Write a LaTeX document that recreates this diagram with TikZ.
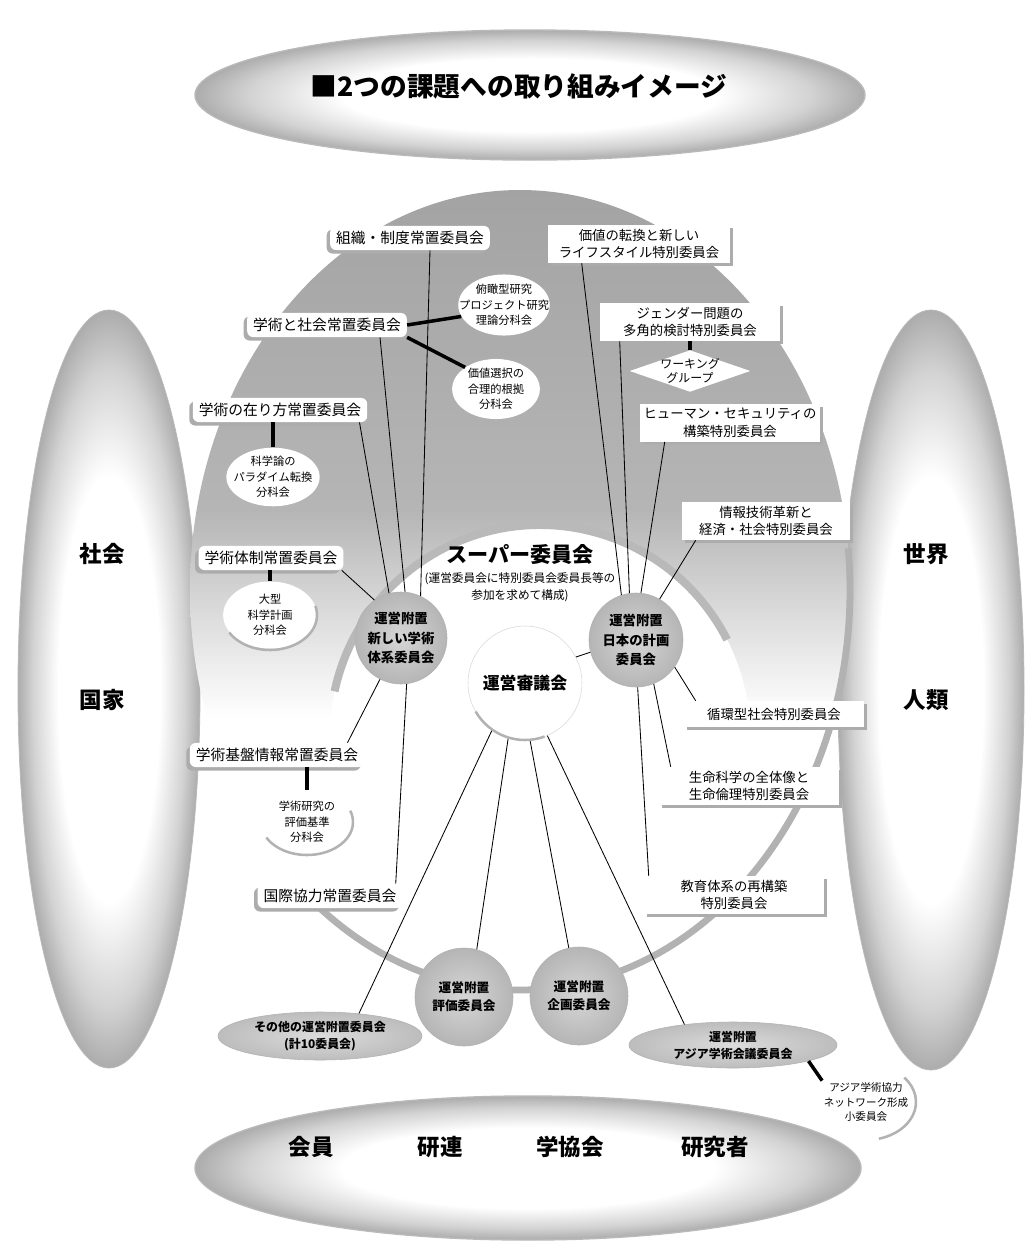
\documentclass[tikz,border=0pt]{standalone}
\usepackage{fontspec}
\setmainfont{Noto Sans CJK JP}
\usetikzlibrary{calc}
\usetikzlibrary{shapes.geometric}
\usetikzlibrary{shadows}

\pgfdeclareradialshading{sideshade}{\pgfpoint{0bp}{0bp}}{color(0bp)=(white); color(14bp)=(white); color(21bp)=(gray!35); color(25bp)=(gray!65); color(50bp)=(gray!65)}
\pgfdeclareverticalshading{mainshade}{100bp}{color(0bp)=(white); color(42bp)=(white); color(49bp)=(gray!30); color(55bp)=(gray!58); color(75bp)=(gray!72); color(100bp)=(gray!72)}

\tikzset{
  jouchi/.style={fill=white, rounded corners=0.15cm, inner xsep=0.15cm, inner ysep=0.13cm,
    font=\fontsize{10.5}{13}\selectfont,
    drop shadow={shadow xshift=-2.5pt, shadow yshift=-2.5pt, fill=gray!65, opacity=1}},
  tokubetsu/.style={fill=white, align=center, minimum width=4.5cm, inner xsep=0.05cm, inner ysep=0.1cm,
    font=\fontsize{9.5}{12.5}\selectfont,
    drop shadow={shadow xshift=2pt, shadow yshift=-2pt, fill=gray!65, opacity=1}},
  bunka/.style 2 args={ellipse, fill=white, align=center, inner xsep=#1, inner ysep=#2,
    font=\fontsize{8}{11}\selectfont},
  fuchi/.style={circle, inner color=gray!32, outer color=gray!58, draw=gray!60, align=center,
    inner sep=0pt, font=\bfseries\fontsize{9.5}{14}\selectfont},
  fuchiell/.style={ellipse, inner color=gray!28, outer color=gray!52, draw=gray!60, align=center,
    inner sep=0pt, font=\bfseries\fontsize{8.5}{12}\selectfont},
  bigword/.style={font=\bfseries\fontsize{16}{18}\selectfont},
  link/.style={line width=0.6pt},
  stub/.style={line width=2.5pt},
  halfarc/.style={gray!60, line width=1.8pt},
  outline/.style={gray!60, line width=0.17cm},
  ring/.style={gray!55, line width=0.2cm},
}

\begin{document}
\begin{tikzpicture}[x=0.025cm, y=-0.025cm]
\useasboundingbox (0,0) rectangle (1029,1245);
\fill[white] (0,0) rectangle (1029,1245);

% outer ellipses
\shade[shading=sideshade, draw=gray!55, line width=1pt] (530,95) ellipse[x radius=335, y radius=65];
\shade[shading=sideshade, draw=gray!55, line width=1pt] (528,1168) ellipse[x radius=333, y radius=72];
\shade[shading=sideshade, draw=gray!55, line width=0.6pt] (109,689) ellipse[x radius=91, y radius=379];
\shade[shading=sideshade, draw=gray!55, line width=0.6pt] (931,690) ellipse[x radius=93, y radius=380];

\node[font=\bfseries\fontsize{19}{22}\selectfont] (title) at (519,86) {■2つの課題への取り組みイメージ};
\node[bigword] (society) at (102,554) {社会};
\node[bigword] (nation) at (102,700) {国家};
\node[bigword] (world) at (926,554) {世界};
\node[bigword] (mankind) at (926,700) {人類};
\node[bigword] (member) at (311,1147) {会員};
\node[bigword] (kenren) at (440,1147) {研連};
\node[bigword] (gakkyo) at (570,1147) {学協会};
\node[bigword] (researcher) at (715,1147) {研究者};

% main ellipse and super committee
\shade[shading=mainshade] (520,590) ellipse[x radius=330, y radius=400];
\fill[white] (540,735) circle[radius=210];
\draw[outline] (520,590) ++(128:330 and 400) arc[start angle=128, end angle=-6, x radius=330, y radius=400];
\draw[ring] (540,735) ++(192:210) arc[start angle=192, end angle=333, radius=210];

\node[font=\bfseries\fontsize{15}{17}\selectfont] (super) at (520,554) {スーパー委員会};
\node[font=\fontsize{8.3}{12.5}\selectfont, align=center] (supernote) at (520,587) {(運営委員会に特別委員会委員長等の\\参加を求めて構成)};

% standing committees
\node[jouchi] (soshiki) at (410,238) {組織・制度常置委員会};
\node[jouchi] (shakai) at (327,325) {学術と社会常置委員会};
\node[jouchi] (arikata) at (280,410) {学術の在り方常置委員会};
\node[jouchi] (taisei) at (271,558) {学術体制常置委員会};
\node[jouchi] (kiban) at (277,755) {学術基盤情報常置委員会};
\node[jouchi] (kokusai) at (330,896) {国際協力常置委員会};

% sub committees
\node[bunka={-0.316cm}{0.023cm}] (fukan) at (504,305) {俯瞰型研究\\プロジェクト研究\\理論分科会};
\node[bunka={0.072cm}{0.014cm}] (kachisen) at (496,389) {価値選択の\\合理的根拠\\分科会};
\node[bunka={-0.157cm}{0cm}] (kagakuron) at (273,477) {科学論の\\パラダイム転換\\分科会};
\node[bunka={0.266cm}{0.076cm}] (ogata) at (270,615) {大型\\科学計画\\分科会};
\node[bunka={0.107cm}{0.04cm}] (kenkyu) at (307,822) {学術研究の\\評価基準\\分科会};

% special committees
\node[tokubetsu, minimum width=4.55cm] (kachi) at (639,244) {価値の転換と新しい\\ライフスタイル特別委員会};
\node[tokubetsu] (gender) at (690,322) {ジェンダー問題の\\多角的検討特別委員会};
\node[diamond, fill=white, aspect=2.9, inner sep=-1pt, align=center, font=\fontsize{8.5}{10}\selectfont] (working) at (690,371) {ワーキング\\グループ};
\node[tokubetsu] (human) at (730,423) {ヒューマン・セキュリティの\\構築特別委員会};
\node[tokubetsu, minimum width=4.2cm] (joho) at (766,521) {情報技術革新と\\経済・社会特別委員会};
\node[tokubetsu, inner ysep=0.17cm] (junkan) at (774,714) {循環型社会特別委員会};
\node[tokubetsu] (seimei) at (749,786) {生命科学の全体像と\\生命倫理特別委員会};
\node[tokubetsu] (kyoiku) at (734,895) {教育体系の再構築\\特別委員会};

% annexed committees
\node[circle, fill=white, draw=gray!30, minimum size=2.85cm, font=\bfseries\fontsize{12}{14}\selectfont] (unei) at (525,683) {運営審議会};
\node[fuchi, minimum size=2.3cm] (atarashii) at (401,638) {運営附置\\新しい学術\\体系委員会};
\node[fuchi, minimum size=2.35cm] (nihon) at (636,640) {運営附置\\日本の計画\\委員会};
\node[fuchi, minimum size=2.45cm, font=\bfseries\fontsize{9}{13}\selectfont] (hyoka) at (464,997) {運営附置\\評価委員会};
\node[fuchi, minimum size=2.45cm, font=\bfseries\fontsize{9}{13}\selectfont] (kikaku) at (579,996) {運営附置\\企画委員会};
\node[fuchiell, minimum width=5.1cm, minimum height=1.2cm] (sonota) at (320,1036) {その他の運営附置委員会\\(計10委員会)};
\node[fuchiell, minimum width=5.2cm, minimum height=1.15cm] (asia) at (733,1045) {運営附置\\アジア学術会議委員会};
\node[align=center, inner sep=1pt, font=\fontsize{7.5}{10.5}\selectfont] (asiasub) at (866,1102) {アジア学術協力\\ネットワーク形成\\小委員会};

\draw[link] ($(soshiki.south)+(20,0)$) -- (atarashii.65);
\draw[link] ($(shakai.south)+(53,0)$) -- (atarashii.85);
\draw[link] ($(arikata.south east)+(-8,0)$) -- (atarashii.105);
\draw[link] ($(taisei.south east)+(-2,0)$) -- (atarashii.125);
\draw[link] ($(kiban.north east)+(-17,0)$) -- (atarashii.-117);
\draw[link] ($(kokusai.north east)+(-7,0)$) -- (atarashii.-83);
\draw[link] ($(kachi.south west)+(34,0)$) -- (nihon.108);
\draw[link] ($(gender.south west)+(20,0)$) -- (nihon.98);
\draw[link] ($(human.south west)+(25,0)$) -- (nihon.84);
\draw[link] ($(joho.south west)+(14,0)$) -- (nihon.60);
\draw[link] ($(junkan.north west)+(12,0)$) -- (nihon.-35);
\draw[link] ($(seimei.north west)+(12,0)$) -- (nihon.-68);
\draw[link] ($(kyoiku.north west)+(5,0)$) -- (nihon.-88);
\draw[link] (unei.27) -- (nihon.195);
\draw[link] (unei.-125) -- (sonota.30);
\draw[link] (unei.-107) -- (hyoka.75);
\draw[link] (unei.-85) -- (kikaku.102);
\draw[link] (unei.-67) -- (asia.157);

\draw[stub] (shakai.east) -- (fukan.195);
\draw[stub] (shakai.south east) -- (kachisen.145);
\draw[stub] (kagakuron.north |- arikata.south) -- (kagakuron.north);
\draw[stub] (ogata.north |- taisei.south) -- (ogata.north);
\draw[stub] (kenkyu.north |- kiban.south) -- (kenkyu.north);
\draw[stub] (working.north |- gender.south) -- (working.north);
\draw[stub] (asia.-12) -- (asiasub.north west);

\draw[halfarc] (unei.center) ++(70:57) arc[start angle=70, end angle=150, radius=57];
\draw[halfarc] (ogata.center) ++(-15:47 and 35) arc[start angle=-15, end angle=150, x radius=47, y radius=35];
\draw[halfarc] (kenkyu.center) ++(-20:46 and 33) arc[start angle=-20, end angle=152, x radius=46, y radius=33];
\draw[halfarc] (asiasub.center) ++(-40:50 and 38) arc[start angle=-40, end angle=75, x radius=50, y radius=38];
\end{tikzpicture}
\end{document}
